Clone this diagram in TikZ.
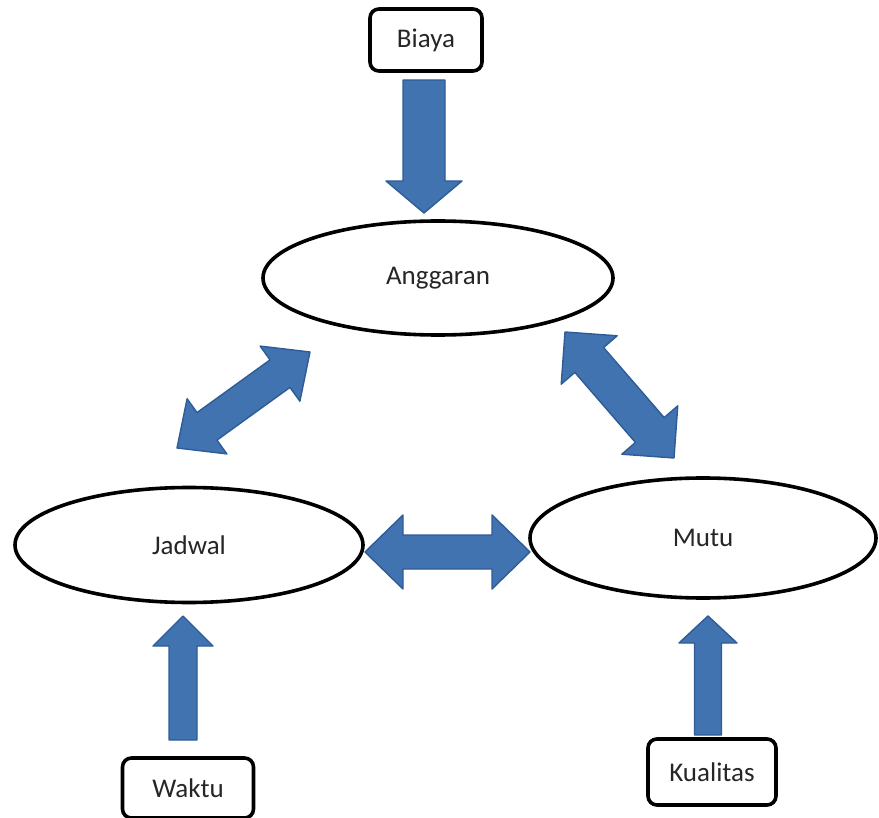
\documentclass[tikz,border=0pt]{standalone}
\usepackage{fontspec}
\setmainfont{Carlito}
\usepackage{tikz}
\usetikzlibrary{calc}
\usetikzlibrary{shapes.geometric}
\definecolor{ArrowFill}{RGB}{64,115,175}
\definecolor{ArrowEdge}{RGB}{46,92,150}
\definecolor{TextGray}{RGB}{38,38,38}
\tikzset{
	termbox/.style={draw=black, line width=3.6pt, rounded corners=9pt, fill=white, text=TextGray, inner sep=0pt, font=\fontsize{27}{32}\selectfont},
	oval/.style={ellipse, draw=black, line width=3.6pt, fill=white, text=TextGray, inner sep=0pt, font=\fontsize{27}{32}\selectfont},
	blockarrow/.style={fill=ArrowFill, draw=ArrowEdge, line width=1.4pt, line join=round},
}
% fat arrow with a head at both ends: tip, tip, shaft half, head half, head length
\newcommand{\twowayarrow}[5]{%
	\draw[blockarrow] (#1)
	-- ($($(#1)!#5!(#2)$)!#4!90:(#2)$)
	-- ($($(#1)!#5!(#2)$)!#3!90:(#2)$)
	-- ($($(#2)!#5!(#1)$)!#3!-90:(#1)$)
	-- ($($(#2)!#5!(#1)$)!#4!-90:(#1)$)
	-- (#2)
	-- ($($(#2)!#5!(#1)$)!#4!90:(#1)$)
	-- ($($(#2)!#5!(#1)$)!#3!90:(#1)$)
	-- ($($(#1)!#5!(#2)$)!#3!-90:(#2)$)
	-- ($($(#1)!#5!(#2)$)!#4!-90:(#2)$)
	-- cycle;}
% fat arrow with one head: tail, tip, shaft half, head half, head length
\newcommand{\onewayarrow}[5]{%
	\draw[blockarrow] ($(#1)!#3!90:(#2)$)
	-- ($($(#2)!#5!(#1)$)!#3!-90:(#1)$)
	-- ($($(#2)!#5!(#1)$)!#4!-90:(#1)$)
	-- (#2)
	-- ($($(#2)!#5!(#1)$)!#4!90:(#1)$)
	-- ($($(#2)!#5!(#1)$)!#3!90:(#1)$)
	-- ($(#1)!#3!-90:(#2)$)
	-- cycle;}

\begin{document}
\begin{tikzpicture}[x=1pt, y=-1pt]
	\useasboundingbox (0,0) rectangle (879,818);
	
	% the three ovals
	\node[oval, minimum width=350pt, minimum height=114pt] (anggaran) at (438,278) {Anggaran};
	\node[oval, minimum width=348pt, minimum height=115pt] (jadwal) at (189,545) {Jadwal};
	\node[oval, minimum width=346pt, minimum height=120pt] (mutu) at (703,538) {Mutu};
	
	% the three inputs
	\node[termbox, minimum width=112pt, minimum height=62pt] (biaya) at (426,40) {Biaya};
	\node[termbox, minimum width=131pt, minimum height=60pt] (waktu) at (188,788) {Waktu};
	\node[termbox, minimum width=128pt, minimum height=66pt] (kualitas) at (712,772) {Kualitas};
	
	% arrow ends
	\coordinate (biaya-out) at (424,80);
	\coordinate (anggaran-in) at (424,213);
	\coordinate (waktu-out) at (183,740);
	\coordinate (jadwal-in) at (183,616);
	\coordinate (kualitas-out) at (708,735);
	\coordinate (mutu-in) at (708,616);
	\coordinate (anggaran-sw) at (310,352);
	\coordinate (jadwal-ne) at (177,448);
	\coordinate (anggaran-se) at (565,332);
	\coordinate (mutu-nw) at (674,458);
	\coordinate (jadwal-e) at (365,552);
	\coordinate (mutu-w) at (530,552);
	
	% inputs into the ovals
	\onewayarrow{biaya-out}{anggaran-in}{21pt}{38pt}{32pt}
	\onewayarrow{waktu-out}{jadwal-in}{14pt}{30pt}{30pt}
	\onewayarrow{kualitas-out}{mutu-in}{13.5pt}{29pt}{27pt}
	
	% links between the ovals
	\twowayarrow{jadwal-ne}{anggaran-sw}{17pt}{34pt}{37pt}
	\twowayarrow{anggaran-se}{mutu-nw}{19pt}{37pt}{37pt}
	\twowayarrow{jadwal-e}{mutu-w}{17pt}{37pt}{38pt}
\end{tikzpicture}
\end{document}
